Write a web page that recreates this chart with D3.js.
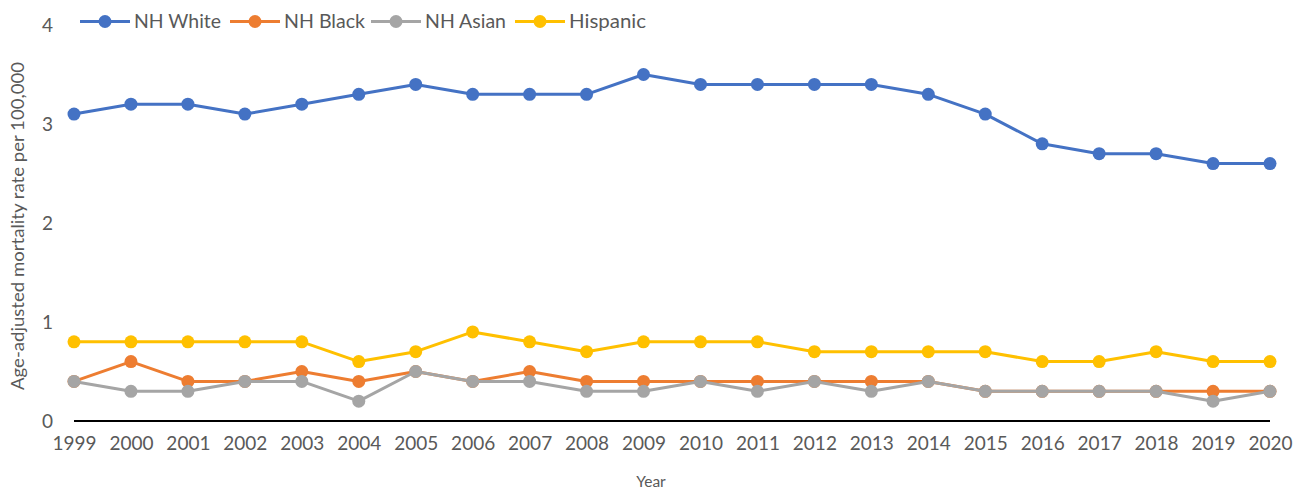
<!DOCTYPE html>
<html>
<head>
<meta charset="utf-8">
<script src="https://cdn.jsdelivr.net/npm/d3@7"></script>
<style>
  html, body { margin: 0; padding: 0; background: #fff; }
  svg { display: block; font-family: Lato, "Open Sans", "Liberation Sans", sans-serif; }
</style>
</head>
<body>
<svg id="chart" width="1309" height="491"></svg>
<script>
// Age-adjusted mortality rate per 100,000 by race/ethnicity, 1999–2020
const years = [1999, 2000, 2001, 2002, 2003, 2004, 2005, 2006, 2007, 2008, 2009,
               2010, 2011, 2012, 2013, 2014, 2015, 2016, 2017, 2018, 2019, 2020];
const nhWhite  = [3.1, 3.2, 3.2, 3.1, 3.2, 3.3, 3.4, 3.3, 3.3, 3.3, 3.5,
                  3.4, 3.4, 3.4, 3.4, 3.3, 3.1, 2.8, 2.7, 2.7, 2.6, 2.6];
const nhBlack  = [0.4, 0.6, 0.4, 0.4, 0.5, 0.4, 0.5, 0.4, 0.5, 0.4, 0.4,
                  0.4, 0.4, 0.4, 0.4, 0.4, 0.3, 0.3, 0.3, 0.3, 0.3, 0.3];
const nhAsian  = [0.4, 0.3, 0.3, 0.4, 0.4, 0.2, 0.5, 0.4, 0.4, 0.3, 0.3,
                  0.4, 0.3, 0.4, 0.3, 0.4, 0.3, 0.3, 0.3, 0.3, 0.2, 0.3];
const hispanic = [0.8, 0.8, 0.8, 0.8, 0.8, 0.6, 0.7, 0.9, 0.8, 0.7, 0.8,
                  0.8, 0.8, 0.7, 0.7, 0.7, 0.7, 0.6, 0.6, 0.7, 0.6, 0.6];
const seriesNames = ["NH White", "NH Black", "NH Asian", "Hispanic"];
const seriesColors = ["#4472C4", "#ED7D31", "#A5A5A5", "#FFC000"];
const yTicks = [0, 1, 2, 3, 4];

const series = [nhWhite, nhBlack, nhAsian, hispanic].map((vals, i) => ({
  name: seriesNames[i], color: seriesColors[i],
  points: years.map((yr, j) => ({ year: yr, value: vals[j] }))
}));

const svg = d3.select("#chart");
const plotLeft = 74, plotRight = 1270, plotTop = 25, plotBottom = 421;
const textColor = "#595959";

const x = d3.scalePoint().domain(years).range([plotLeft, plotRight]);
const y = d3.scaleLinear().domain([0, 4]).range([plotBottom, plotTop]);

// Y tick labels (no axis line)
svg.append("g").selectAll("text").data(yTicks).join("text")
  .attr("x", 53).attr("y", d => y(d)).attr("dy", "0.36em")
  .attr("text-anchor", "end")
  .attr("font-size", 19).attr("fill", textColor)
  .text(d => d);

// X axis baseline and year labels
const xAxis = d3.axisBottom(x).tickSize(0).tickPadding(16);
const gx = svg.append("g").attr("transform", `translate(0,${plotBottom})`).call(xAxis);
gx.select(".domain").attr("stroke", "#000").attr("stroke-width", 2)
  .attr("d", `M${plotLeft},0H${plotRight}`);
gx.selectAll("text").attr("font-size", 19).attr("fill", textColor)
  .attr("font-family", "Lato, \"Open Sans\", sans-serif");

// Axis titles
svg.append("text").attr("x", 651).attr("y", 487)
  .attr("text-anchor", "middle").attr("font-size", 15.5).attr("fill", textColor)
  .text("Year");
svg.append("text")
  .attr("transform", `translate(24,226) rotate(-90)`)
  .attr("text-anchor", "middle").attr("font-size", 17).attr("fill", textColor)
  .attr("textLength", 328).attr("lengthAdjust", "spacingAndGlyphs")
  .text("Age-adjusted mortality rate per 100,000");

// Lines and markers
const line = d3.line().x(d => x(d.year)).y(d => y(d.value));
const gs = svg.append("g").selectAll("g").data(series).join("g");
gs.append("path")
  .attr("d", d => line(d.points))
  .attr("fill", "none").attr("stroke", d => d.color)
  .attr("stroke-width", 3).attr("stroke-linejoin", "round");
gs.selectAll("circle").data(d => d.points.map(p => ({ ...p, color: d.color }))).join("circle")
  .attr("cx", d => x(d.year)).attr("cy", d => y(d.value)).attr("r", 6.5)
  .attr("fill", d => d.color);

// Legend
const legendX = [80, 230, 371, 515];
const legendTextW = [87, 81, 81, 77];
const lg = svg.append("g").selectAll("g").data(series).join("g")
  .attr("transform", (d, i) => `translate(${legendX[i]},21.5)`);
lg.append("line").attr("x1", 0).attr("x2", 50).attr("stroke", d => d.color).attr("stroke-width", 3);
lg.append("circle").attr("cx", 25).attr("r", 6.5).attr("fill", d => d.color);
lg.append("text").attr("x", 54).attr("dy", "0.36em")
  .attr("font-size", 19).attr("fill", textColor)
  .attr("textLength", (d, i) => legendTextW[i]).attr("lengthAdjust", "spacingAndGlyphs")
  .text(d => d.name);
</script>
</body>
</html>
